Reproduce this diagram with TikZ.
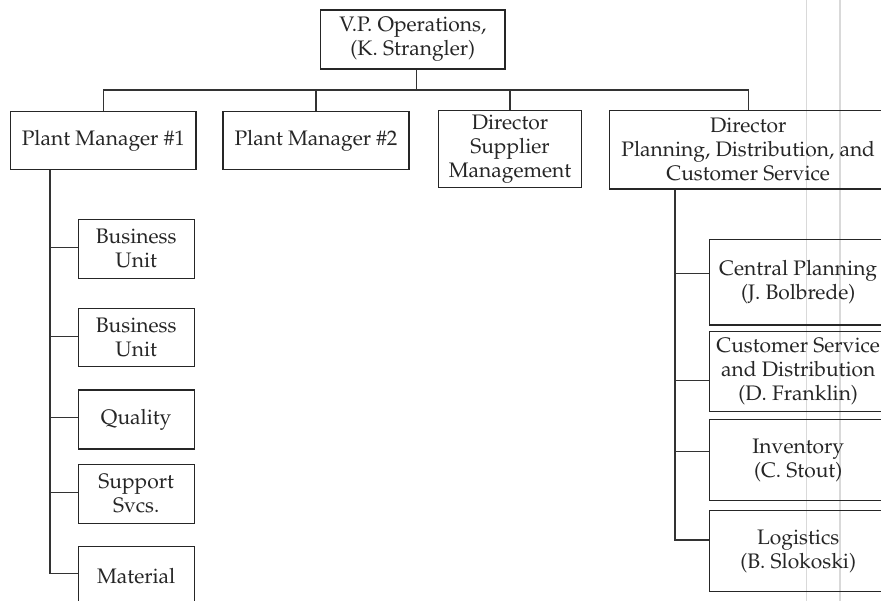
\documentclass[tikz,border=0pt]{standalone}
\IfFileExists{mathpazo.sty}{%
  \usepackage[T1]{fontenc}\usepackage{mathpazo}%
  \newcommand\boxfont{\fontsize{21}{24}\selectfont}}{%
  \usepackage{fontspec}\setmainfont{Liberation Serif}%
  \newcommand\boxfont{\fontsize{22}{24}\selectfont}}
\begin{document}
\begin{tikzpicture}[x=1pt,y=-1pt,
  box/.style={draw=black!85,line width=1.1pt,align=center,inner sep=0pt,
    font=\boxfont,text=black!85},
  conn/.style={draw=black!80,line width=1.1pt},
  guide/.style={draw=black!15,line width=1.3pt}]
\clip (0,0) rectangle (881,601);
\fill[white] (0,0) rectangle (881,601);
% light guide lines (behind everything)
\coordinate (g1t) at (806.7,0);
\coordinate (g1b) at (806.7,601);
\coordinate (g2t) at (840,0);
\coordinate (g2b) at (840,601);
\draw[guide] (g1t) -- (g1b);
\draw[guide] (g2t) -- (g2b);
% top level
\node[box,minimum width=184.3pt,minimum height=59pt] (vp) at (412.8,39.5) {V.P. Operations,\\(K. Strangler)};
\node[box,minimum width=185.3pt,minimum height=57.6pt] (pm1) at (103.3,140.5) {Plant Manager \#1};
\node[box,minimum width=186pt,minimum height=57.6pt] (pm2) at (316,140.5) {Plant Manager \#2};
\node[box,minimum width=143.4pt,minimum height=76.6pt] (ds) at (510,149) {Director\\Supplier\\Management};
\node[box,minimum width=277.7pt,minimum height=78.3pt] (pdc) at (748.2,149.9) {Director\\Planning, Distribution, and\\Customer Service};
\coordinate (bus) at (416.7,90);
\draw[conn] (vp.south -| bus) -- (bus);
\draw[conn] (pm1.north) |- (bus) -| (pdc.north);
\draw[conn] (pm2.north) -- (pm2.north |- bus);
\draw[conn] (ds.north) -- (ds.north |- bus);
% left subtree
\node[box,minimum width=115.7pt,minimum height=59pt] (bu1) at (136.2,248.8) {Business\\Unit};
\node[box,minimum width=115.7pt,minimum height=58.4pt] (bu2) at (136.2,337.5) {Business\\Unit};
\node[box,minimum width=115.7pt,minimum height=59pt] (q) at (136.2,419.5) {Quality};
\node[box,minimum width=115.7pt,minimum height=59pt] (ss) at (136.2,493.8) {Support\\Svcs.};
\node[box,minimum width=115.7pt,minimum height=59pt] (mat) at (136.2,576.2) {Material};
\coordinate (lt) at ([xshift=-53.3pt]pm1.south);
\draw[conn] (lt) |- ([yshift=2.9pt]mat.west);
\draw[conn] ([yshift=1.5pt]bu1.west) -- ([yshift=1.5pt]bu1.west -| lt);
\draw[conn] ([yshift=0.8pt]bu2.west) -- ([yshift=0.8pt]bu2.west -| lt);
\draw[conn] ([yshift=2.2pt]q.west) -- ([yshift=2.2pt]q.west -| lt);
\draw[conn] ([yshift=1.1pt]ss.west) -- ([yshift=1.1pt]ss.west -| lt);
% right subtree
\node[box,minimum width=177.7pt,minimum height=85.7pt] (cp) at (798.2,282.2) {Central Planning\\(J. Bolbrede)};
\node[box,minimum width=177.7pt,minimum height=80pt] (csd) at (798.2,371.7) {Customer Service\\and Distribution\\(D. Franklin)};
\node[box,minimum width=177.7pt,minimum height=81.4pt] (inv) at (798.2,460) {Inventory\\(C. Stout)};
\node[box,minimum width=177.7pt,minimum height=81pt] (log) at (798.2,551.2) {Logistics\\(B. Slokoski)};
\coordinate (rt) at (pdc.south -| 675,0);
\draw[conn] (rt) |- ([yshift=11.2pt]log.west);
\draw[conn] ([yshift=9pt]cp.west) -- ([yshift=9pt]cp.west -| rt);
\draw[conn] ([yshift=-9pt]csd.west) -- ([yshift=-9pt]csd.west -| rt);
\draw[conn] ([yshift=8.3pt]inv.west) -- ([yshift=8.3pt]inv.west -| rt);
\end{tikzpicture}
\end{document}
